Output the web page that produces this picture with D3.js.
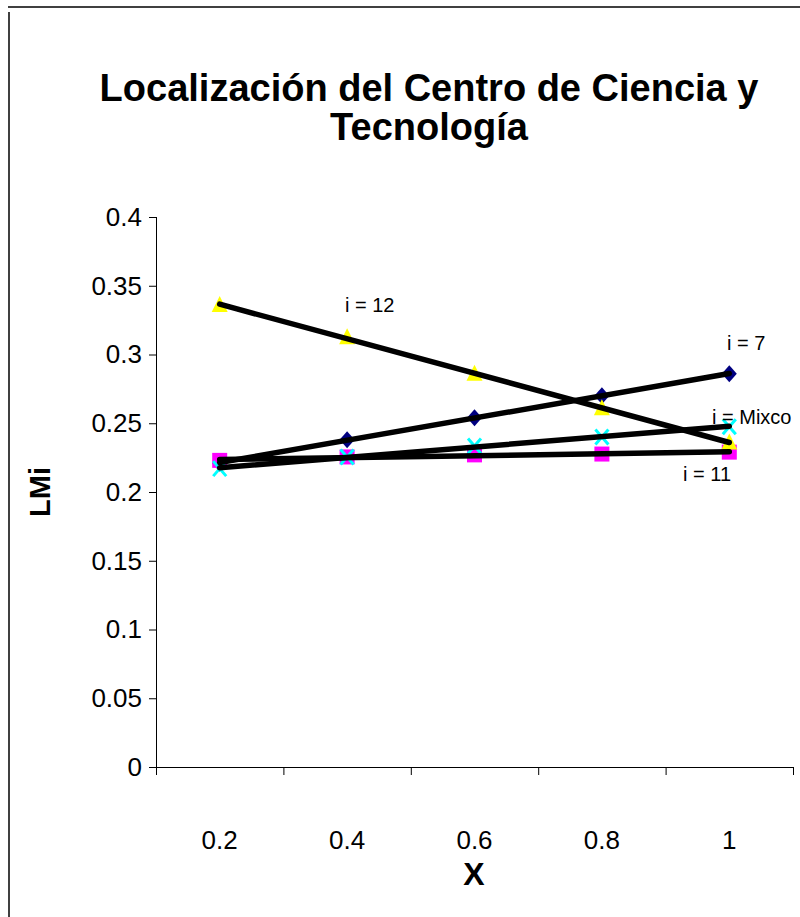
<!DOCTYPE html>
<html>
<head>
<meta charset="utf-8">
<script src="https://cdnjs.cloudflare.com/ajax/libs/d3/7.8.5/d3.min.js"></script>
<style>
  html, body { margin: 0; padding: 0; background: #fff; }
  svg { display: block; font-family: "Liberation Sans", Arial, sans-serif; }
</style>
</head>
<body>
<svg id="chart" width="800" height="917"></svg>
<script>
// Categories on the X axis
const categories = ["0.2", "0.4", "0.6", "0.8", "1"];

// LMi values for each locality
const seriesI7 = [0.221, 0.238, 0.254, 0.270, 0.286];
const seriesI11 = [0.223, 0.2255, 0.227, 0.2276, 0.229];
const seriesI12 = [0.336, 0.3125, 0.286, 0.261, 0.236];
const seriesMixco = [0.217, 0.2255, 0.2335, 0.240, 0.2475];

// Y axis ticks
const yTicks = [0, 0.05, 0.1, 0.15, 0.2, 0.25, 0.3, 0.35, 0.4];

const titleLines = ["Localización del Centro de Ciencia y", "Tecnología"];

const svg = d3.select("#chart");

// Frame around the chart area
svg.append("line").attr("x1", 8).attr("x2", 800).attr("y1", 7).attr("y2", 7)
  .attr("stroke", "#000").attr("stroke-width", 1.5);
svg.append("line").attr("x1", 9).attr("x2", 9).attr("y1", 12).attr("y2", 917)
  .attr("stroke", "#000").attr("stroke-width", 1.5);

const plot = { left: 156, right: 793, top: 217, bottom: 767 };

const x = d3.scaleBand().domain(categories).range([plot.left, plot.right]).paddingInner(0).paddingOuter(0);
const xc = c => x(c) + x.bandwidth() / 2;
const y = d3.scaleLinear().domain([0, 0.4]).range([plot.bottom, plot.top]);

// Title
svg.append("g").selectAll("text").data(titleLines).join("text")
  .attr("x", 429).attr("y", (d, i) => 101 + i * 39)
  .attr("text-anchor", "middle")
  .attr("font-weight", "bold").attr("font-size", 38)
  .text(d => d);

// Y axis
const yAxis = svg.append("g").attr("transform", `translate(${plot.left},0)`)
  .call(d3.axisLeft(y).tickValues(yTicks).tickSize(7).tickPadding(7).tickFormat(d => String(+d.toFixed(2))));
yAxis.select(".domain").attr("stroke", "#000").attr("stroke-width", 1).attr("d", `M0.5,${plot.top}V${plot.bottom}`);
yAxis.selectAll(".tick line").attr("stroke", "#000");
yAxis.selectAll(".tick text").attr("font-size", 26).attr("fill", "#000")
  .attr("font-family", "Liberation Sans, Arial, sans-serif");

// X axis with ticks between categories
const xAxis = svg.append("g").attr("transform", `translate(0,${plot.bottom})`)
  .call(d3.axisBottom(x).tickSize(0).tickPadding(64));
xAxis.select(".domain").remove();
xAxis.append("line").attr("x1", plot.left).attr("x2", plot.right).attr("y1", 0.5).attr("y2", 0.5).attr("stroke", "#000");
const bounds = categories.map(c => x(c)).concat([plot.right]);
xAxis.selectAll(".sep").data(bounds).join("line").attr("class", "sep")
  .attr("x1", d => d + 0.5).attr("x2", d => d + 0.5).attr("y1", 0).attr("y2", 8).attr("stroke", "#000");
xAxis.selectAll(".tick text").attr("font-size", 26).attr("fill", "#000")
  .attr("font-family", "Liberation Sans, Arial, sans-serif");

// Axis titles
svg.append("text").attr("x", 474).attr("y", 885).attr("text-anchor", "middle")
  .attr("font-weight", "bold").attr("font-size", 32).text("X");
svg.append("text").attr("transform", "translate(50,492) rotate(-90)").attr("text-anchor", "middle")
  .attr("font-weight", "bold").attr("font-size", 29).text("LMi");

// Markers
const series = [
  { name: "i = 7", values: seriesI7, shape: "diamond", color: "#000080" },
  { name: "i = 11", values: seriesI11, shape: "square", color: "#FF00FF" },
  { name: "i = 12", values: seriesI12, shape: "triangle", color: "#FFFF00" },
  { name: "i = Mixco", values: seriesMixco, shape: "x", color: "#00FFFF" }
];

const markerG = svg.append("g");
series.forEach(s => {
  const g = markerG.append("g");
  s.values.forEach((v, i) => {
    const cx = xc(categories[i]), cy = y(v);
    if (s.shape === "diamond") {
      g.append("path").attr("d", `M${cx},${cy - 8.5}L${cx + 7.5},${cy}L${cx},${cy + 8.5}L${cx - 7.5},${cy}Z`).attr("fill", s.color);
    } else if (s.shape === "square") {
      g.append("rect").attr("x", cx - 7.5).attr("y", cy - 7.5).attr("width", 15).attr("height", 15).attr("fill", s.color);
    } else if (s.shape === "triangle") {
      g.append("path").attr("d", `M${cx},${cy - 9}L${cx + 8},${cy + 7}L${cx - 8},${cy + 7}Z`).attr("fill", s.color);
    } else {
      g.append("path").attr("d", `M${cx - 6.5},${cy - 7.5}L${cx + 6.5},${cy + 7.5}M${cx + 6.5},${cy - 7.5}L${cx - 6.5},${cy + 7.5}`)
        .attr("stroke", s.color).attr("stroke-width", 3).attr("fill", "none");
    }
  });
});

// Linear trend lines
const lineG = svg.append("g");
series.forEach(s => {
  const n = s.values.length;
  const xs = d3.range(n);
  const mx = d3.mean(xs), my = d3.mean(s.values);
  const slope = d3.sum(xs, (xi, i) => (xi - mx) * (s.values[i] - my)) / d3.sum(xs, xi => (xi - mx) ** 2);
  const b = my - slope * mx;
  lineG.append("line")
    .attr("x1", xc(categories[0])).attr("y1", y(b))
    .attr("x2", xc(categories[n - 1])).attr("y2", y(b + slope * (n - 1)))
    .attr("stroke", "#000").attr("stroke-width", 5.5).attr("stroke-linecap", "round");
});

// Series labels
const labels = [
  { text: "i = 12", x: 345, y: 312 },
  { text: "i = 7", x: 727, y: 350 },
  { text: "i = Mixco", x: 712, y: 424 },
  { text: "i = 11", x: 683, y: 481 }
];
svg.append("g").selectAll("text").data(labels).join("text")
  .attr("x", d => d.x).attr("y", d => d.y).attr("font-size", 20)
  .text(d => d.text);
</script>
</body>
</html>
